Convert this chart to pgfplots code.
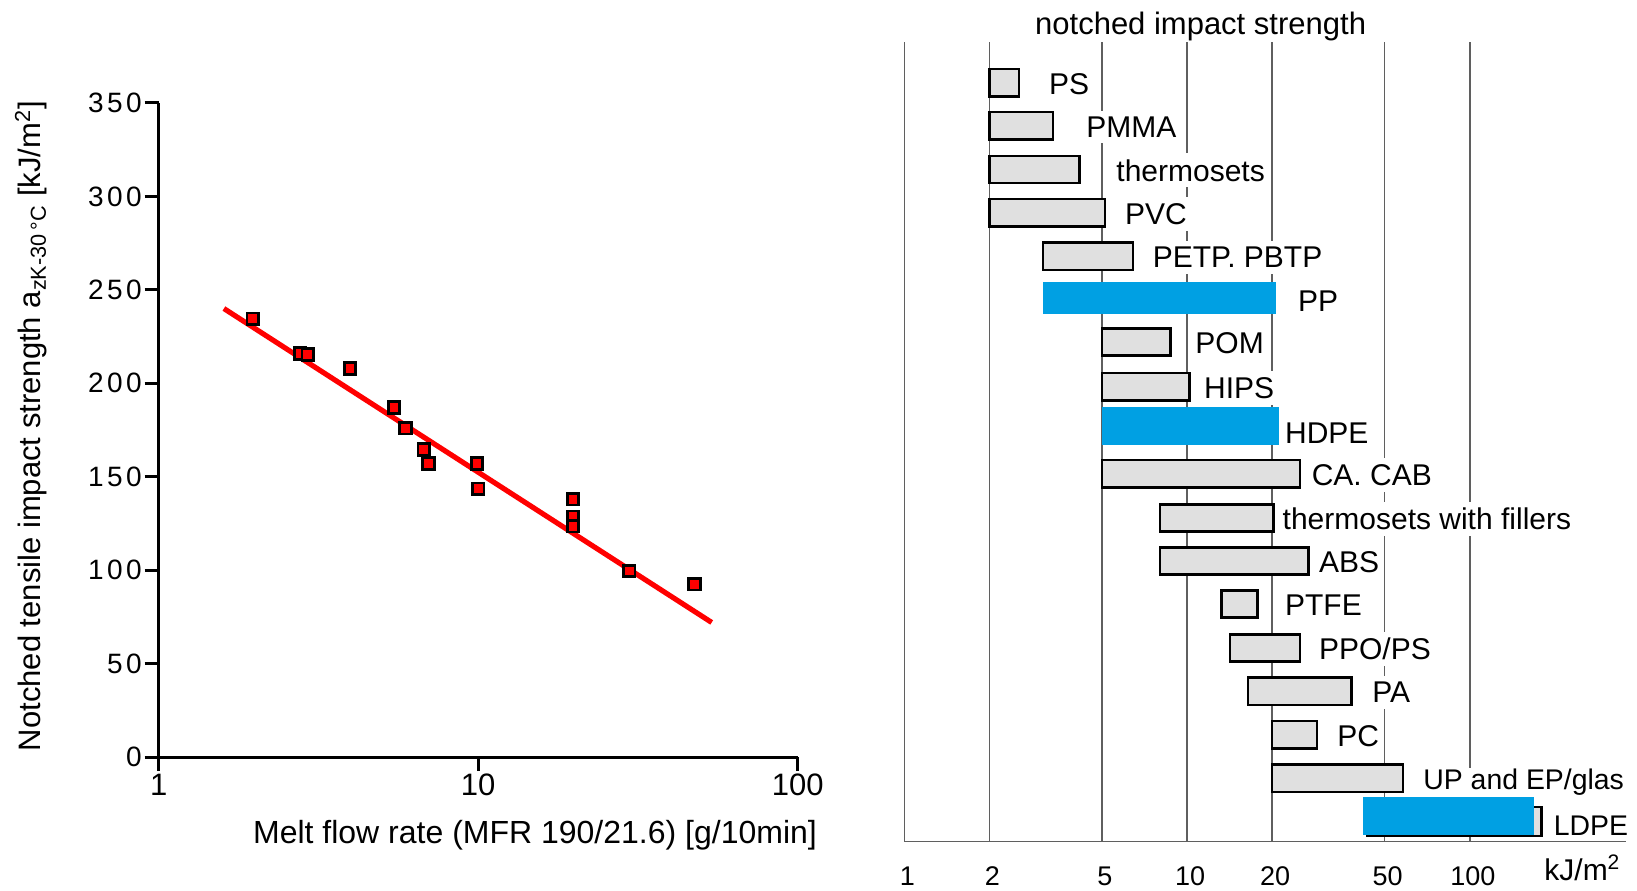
\documentclass[border=0pt]{standalone}
\usepackage{fontspec}
\setmainfont{Liberation Sans}
\newfontfamily\ytf{Liberation Sans}[LetterSpace=12]
\usepackage{pgfplots}
\pgfplotsset{compat=1.18}
\definecolor{barblue}{RGB}{0,160,227}
\definecolor{bargray}{RGB}{224,224,224}
\definecolor{gridgray}{RGB}{95,95,95}
\newcommand{\rbar}[5]{\addplot[#5] coordinates {(#1,#3) (#2,#3) (#2,#4) (#1,#4)} -- cycle;}
\newcommand{\lf}{\fontsize{15}{18}\selectfont}
\begin{document}
\begin{tikzpicture}[x=1pt,y=1pt]
\useasboundingbox (0,0) rectangle (818.5,445);

% ---------------- left panel ----------------
\begin{axis}[
 at={(79.35pt,66.5pt)}, anchor=south west,
 scale only axis, width=319.5pt, height=327pt,
 xmode=log, xmin=1, xmax=100, ymin=0, ymax=350,
 axis lines=left, axis line style={-, line width=1.5pt, black},
 xtick={1,10,100}, xticklabels={1,10,100}, xminorticks=false,
 ytick={0,50,100,150,200,250,300,350},
 yticklabels={0,50,100,150,200,250,300,350},
 tick align=outside, major tick length=7pt,
 tick style={line width=1.5pt, black},
 xticklabel style={font=\fontsize{15.5}{18}\selectfont, yshift=2pt},
 yticklabel style={font=\fontsize{14}{16}\ytf, xshift=2pt},
 clip=false,
]
\addplot[red, line width=2.6pt] coordinates {(1.6,240) (53.8,72)};
\addplot[only marks, mark=square*, mark size=2.9pt,
  mark options={fill=red, draw=black, line width=1.4pt}] coordinates {
 (1.97,234.5) (2.77,216) (2.93,215.5) (3.97,208) (5.45,187) (5.93,176)
 (6.76,164.5) (6.99,157) (9.92,157) (10.0,143.5) (19.8,138) (19.8,128.5)
 (19.8,123.5) (29.7,99.5) (47.5,92.5)};
\end{axis}
\node[rotate=90, font=\fontsize{15.5}{18}\selectfont] at (15.5,232)
 {Notched tensile impact strength a\textsubscript{zK-30\,°C} [kJ/m\textsuperscript{2}]};
\node[anchor=base, font=\fontsize{16}{19}\selectfont] at (267.5,23.35)
 {Melt flow rate (MFR 190/21.6) [g/10min]};

% ---------------- right panel ----------------
\begin{axis}[
 at={(452.2pt,24.15pt)}, anchor=south west,
 scale only axis, width=360.55pt, height=400pt,
 xmode=log, xmin=1, xmax=355.5, ymin=24.15, ymax=424.15,
 axis lines=left, axis line style={-, gridgray, line width=0.7pt},
 xtick={1,2,5,10,20,50,100}, xticklabels={1,2,5,10,20,50,100}, xminorticks=false,
 ytick=\empty,
 xmajorgrids, grid style={gridgray, line width=0.7pt},
 major tick length=0pt,
 xticklabel style={font=\fontsize{13.5}{16}\selectfont, anchor=base, yshift=-21.65pt, xshift=1.5pt},
 clip=false,
 gbar/.style={fill=bargray, draw=black, line width=1.3pt},
 bbar/.style={fill=barblue, draw=none},
]
\rbar{2}{2.54}{396.8}{410.4}{gbar}
\rbar{2}{3.35}{375.3}{388.9}{gbar}
\rbar{2}{4.16}{353.45}{367.05}{gbar}
\rbar{2}{5.13}{331.8}{345.4}{gbar}
\rbar{3.09}{6.43}{310.05}{323.65}{gbar}
\rbar{3.09}{20.6}{287.85}{303.85}{bbar}
\rbar{5}{8.74}{267.2}{280.8}{gbar}
\rbar{5}{10.2}{244.85}{258.45}{gbar}
\rbar{5}{21.2}{222.5}{241.35}{bbar}
\rbar{5}{25.1}{201.35}{214.95}{gbar}
\rbar{8.03}{20.2}{179.3}{192.9}{gbar}
\rbar{8.03}{26.9}{157.7}{171.3}{gbar}
\rbar{13.25}{17.7}{136.2}{149.8}{gbar}
\rbar{14.2}{25.1}{114.2}{127.8}{gbar}
\rbar{16.4}{38.1}{92.55}{106.15}{gbar}
\rbar{20}{28.8}{70.85}{84.45}{gbar}
\rbar{20}{58.1}{49.05}{62.65}{gbar}
\rbar{43.3}{179.5}{27.0}{41.5}{gbar}
\rbar{42.0}{168.7}{27.5}{46.65}{bbar}
\end{axis}

\tikzset{lab/.style={anchor=base west, inner xsep=1pt, inner ysep=3pt, fill=white, font=\lf}}
\node[lab] at (523.35,397.8) {PS};
\node[lab] at (542,376.3) {PMMA};
\node[lab] at (557,354.45) {thermosets};
\node[lab] at (561.4,332.8) {PVC};
\node[lab] at (575.2,311.05) {PETP. PBTP};
\node[lab] at (647.9,289.15) {PP};
\node[lab] at (596.5,268.2) {POM};
\node[lab] at (600.9,245.85) {HIPS};
\node[lab] at (641.35,223.35) {HDPE};
\node[lab] at (654.7,202.35) {CA. CAB};
\node[lab] at (640.15,180.3) {thermosets with fillers};
\node[lab] at (658.35,158.7) {ABS};
\node[lab] at (641.35,137.2) {PTFE};
\node[lab] at (658.35,115.2) {PPO/PS};
\node[lab] at (685,93.55) {PA};
\node[lab] at (667.5,71.85) {PC};
\node[lab, inner ysep=0.5pt, font=\fontsize{14.2}{17}\selectfont] at (710.5,50.05) {UP and EP/glas};
\node[lab, inner ysep=0.5pt, font=\fontsize{14.2}{17}\selectfont] at (775.7,27.5) {LDPE};
\node[anchor=base, font=\fontsize{15.5}{18}\selectfont] at (600.3,427.85) {notched impact strength};
\node[anchor=base west, inner sep=0pt, font=\lf] at (772,5) {kJ/m\textsuperscript{2}};
\end{tikzpicture}
\end{document}
